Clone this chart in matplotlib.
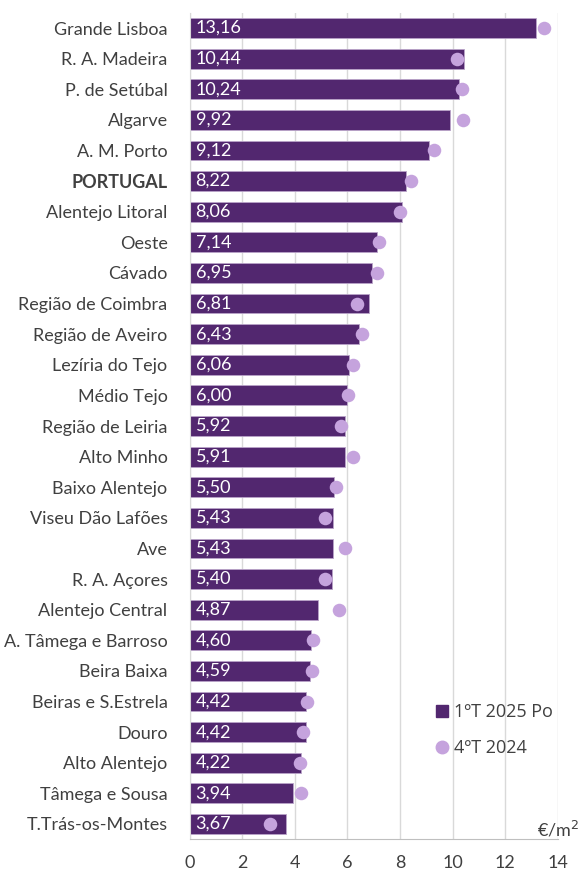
import matplotlib.pyplot as plt
from matplotlib.lines import Line2D

regions = ["Grande Lisboa", "R. A. Madeira", "P. de Setúbal", "Algarve", "A. M. Porto",
           "PORTUGAL", "Alentejo Litoral", "Oeste", "Cávado", "Região de Coimbra",
           "Região de Aveiro", "Lezíria do Tejo", "Médio Tejo", "Região de Leiria",
           "Alto Minho", "Baixo Alentejo", "Viseu Dão Lafões", "Ave", "R. A. Açores",
           "Alentejo Central", "A. Tâmega e Barroso", "Beira Baixa", "Beiras e S.Estrela",
           "Douro", "Alto Alentejo", "Tâmega e Sousa", "T.Trás-os-Montes"]
q1_2025 = [13.16, 10.44, 10.24, 9.92, 9.12, 8.22, 8.06, 7.14, 6.95, 6.81, 6.43, 6.06,
           6.00, 5.92, 5.91, 5.50, 5.43, 5.43, 5.40, 4.87, 4.60, 4.59, 4.42, 4.42,
           4.22, 3.94, 3.67]
q4_2024 = [13.49, 10.18, 10.36, 10.38, 9.30, 8.42, 8.00, 7.19, 7.14, 6.35, 6.54, 6.22,
           6.03, 5.76, 6.20, 5.56, 5.15, 5.92, 5.15, 5.68, 4.68, 4.64, 4.46, 4.30,
           4.20, 4.22, 3.05]

bar_color = "#52276F"
dot_color = "#C5A3DD"
plt.rcParams['font.family'] = ['Lato', 'DejaVu Sans']
fs = 13

fig = plt.figure(figsize=(5.84, 8.71), dpi=100)
ax = fig.add_axes([0.325, 0.0364, 0.63, 0.949])

y = list(range(len(regions)))
ax.barh(y, q1_2025, height=0.65, color=bar_color, edgecolor="#B9A3C9", linewidth=0.6, zorder=2)
ax.scatter(q4_2024, y, s=95, color=dot_color, zorder=3, linewidths=0)

for yi, v in zip(y, q1_2025):
    ax.text(0.22, yi, f"{v:.2f}".replace(".", ","), color="white", fontsize=fs,
            va="center", ha="left", zorder=4)

ax.set_ylim(len(regions) - 0.5, -0.5)
ax.set_xlim(0, 14)
ax.set_xticks(range(0, 15, 2))
ax.set_yticks(y)
ax.set_yticklabels(regions, fontsize=fs, color="#404040")
for lbl in ax.get_yticklabels():
    if lbl.get_text() == "PORTUGAL":
        lbl.set_fontweight("bold")
ax.tick_params(axis="y", length=0, pad=16)
ax.tick_params(axis="x", length=0, pad=11, labelsize=fs, labelcolor="#404040")

ax.grid(axis="x", color="#D9D9D9", linewidth=1, zorder=0)
for s in ["top", "right"]:
    ax.spines[s].set_visible(False)
ax.spines["left"].set_color("#D9D9D9")
ax.spines["bottom"].set_color("#BFBFBF")

ax.text(1.0, 0.0, "€/m$^2$", transform=ax.transAxes, fontsize=fs, color="#404040",
        ha="center", va="bottom")

handles = [Line2D([], [], marker="s", linestyle="none", color=bar_color, markersize=8),
           Line2D([], [], marker="o", linestyle="none", color=dot_color, markersize=9)]
fig.legend(handles, ["1ºT 2025 Po", "4ºT 2024"], loc="center left",
           bbox_to_anchor=(0.71, 0.162), frameon=False, fontsize=fs,
           labelspacing=1.0, handletextpad=0.1, handlelength=1.2,
           labelcolor="#404040", prop={"family": ["Open Sans", "DejaVu Sans"], "size": fs})

fig.savefig("out.png", dpi=100)
